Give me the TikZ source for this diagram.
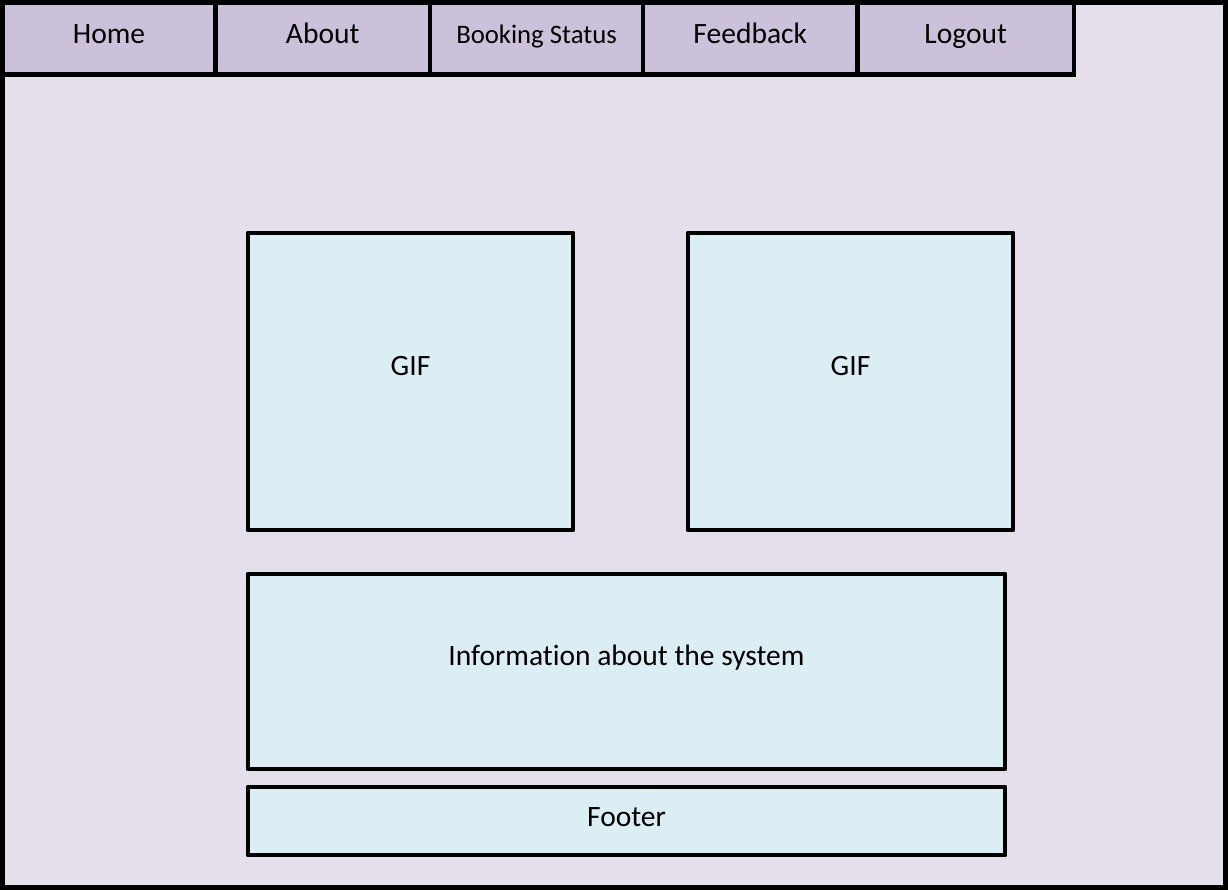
\documentclass[tikz,border=0pt]{standalone}
\usepackage{fontspec}
\setmainfont{Carlito}[Ligatures=NoCommon]
\usepackage{xcolor}

\definecolor{pagebg}{HTML}{E5DFEC}
\definecolor{tabbg}{HTML}{CCC1DA}
\definecolor{panebg}{HTML}{DAEEF3}

\tikzset{
  tab/.style={draw, line width=1.3pt, fill=tabbg, minimum height=0.72cm, inner sep=0pt,
    text height=5.2pt, text depth=2.1pt, font=\fontsize{8.4}{10}\selectfont},
  pane/.style={draw, line width=1.4pt, line join=round, fill=panebg, inner sep=0pt},
  caption/.style={anchor=base, inner sep=0pt, font=\fontsize{8.4}{10}\selectfont}
}

\begin{document}
\begin{tikzpicture}
	\useasboundingbox (0,0) rectangle (12.28,-8.90);
	% page frame
	\draw[line width=1.4pt, fill=pagebg] (0.025,-0.025) rectangle (12.255,-8.875);
	% menu bar
	\node[tab, minimum width=2.13cm] (home) at (1.09,-0.385) {Home};
	\node[tab, minimum width=2.145cm] (about) at (3.2275,-0.385) {About};
	\node[tab, minimum width=2.13cm, font=\fontsize{7.6}{9}\selectfont] (status) at (5.365,-0.385) {Booking Status};
	\node[tab, minimum width=2.145cm] (feedback) at (7.5025,-0.385) {Feedback};
	\node[tab, minimum width=2.165cm] (logout) at (9.6575,-0.385) {Logout};
	% content
	\node[pane, minimum width=3.25cm, minimum height=2.97cm] (gifL) at (4.105,-3.815) {};
	\node[pane, minimum width=3.25cm, minimum height=2.97cm] (gifR) at (8.505,-3.815) {};
	\node[pane, minimum width=7.57cm, minimum height=1.95cm] (info) at (6.265,-6.715) {};
	\node[pane, minimum width=7.57cm, minimum height=0.68cm] (footer) at (6.265,-8.21) {};
	\node[caption] (gifLtext) at (4.105,-3.76) {GIF};
	\node[caption] (gifRtext) at (8.505,-3.76) {GIF};
	\node[caption] (infotext) at (6.265,-6.65) {Information about the system};
	\node[caption] (footertext) at (6.265,-8.26) {Footer};
\end{tikzpicture}
\end{document}
